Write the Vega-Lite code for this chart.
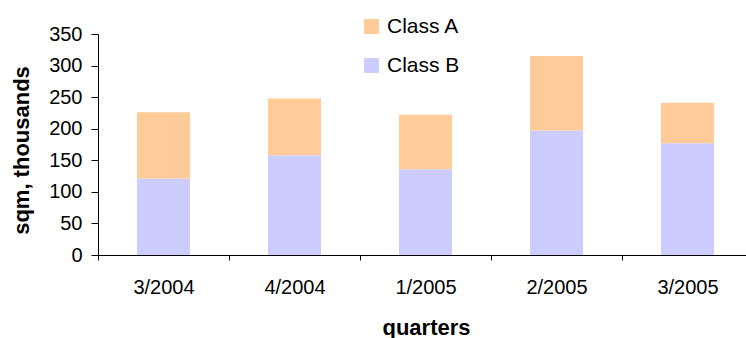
{
  "$schema": "https://vega.github.io/schema/vega-lite/v6.json",
  "autosize": {"type": "none"},
  "width": 648,
  "height": 221,
  "padding": {"left": 98, "top": 34, "right": 0, "bottom": 83},
  "background": "white",
  "config": {
    "view": {"stroke": null},
    "font": "Liberation Sans"
  },
  "data": {
    "values": [
      {"quarter": "3/2004", "class": "Class B", "stackOrder": 1, "sqm": 121},
      {"quarter": "3/2004", "class": "Class A", "stackOrder": 2, "sqm": 105},
      {"quarter": "4/2004", "class": "Class B", "stackOrder": 1, "sqm": 158},
      {"quarter": "4/2004", "class": "Class A", "stackOrder": 2, "sqm": 90},
      {"quarter": "1/2005", "class": "Class B", "stackOrder": 1, "sqm": 136},
      {"quarter": "1/2005", "class": "Class A", "stackOrder": 2, "sqm": 86},
      {"quarter": "2/2005", "class": "Class B", "stackOrder": 1, "sqm": 197},
      {"quarter": "2/2005", "class": "Class A", "stackOrder": 2, "sqm": 118},
      {"quarter": "3/2005", "class": "Class B", "stackOrder": 1, "sqm": 177},
      {"quarter": "3/2005", "class": "Class A", "stackOrder": 2, "sqm": 64}
    ]
  },
  "mark": {"type": "bar", "width": {"band": 0.405}},
  "encoding": {
    "x": {
      "field": "quarter",
      "type": "nominal",
      "sort": ["3/2004", "4/2004", "1/2005", "2/2005", "3/2005"],
      "scale": {"paddingInner": 0, "paddingOuter": 0, "range": [0, 655]},
      "axis": {
        "title": "quarters",
        "titleFont": "Liberation Sans",
        "titleFontSize": 22,
        "titleFontWeight": "bold",
        "titleColor": "black",
        "titleX": 328,
        "titleY": 79,
        "titleAlign": "center",
        "titleBaseline": "alphabetic",
        "labelAngle": 0,
        "labelFont": "Liberation Sans",
        "labelFontSize": 20,
        "labelColor": "black",
        "labelPadding": 17,
        "tickBand": "extent",
        "tickSize": 5,
        "tickColor": "black",
        "domainColor": "black",
        "grid": false
      }
    },
    "y": {
      "field": "sqm",
      "type": "quantitative",
      "stack": "zero",
      "scale": {"domain": [0, 350], "nice": false},
      "axis": {
        "title": "sqm, thousands",
        "titleFont": "Liberation Sans",
        "titleFontSize": 22,
        "titleFontWeight": "bold",
        "titleColor": "black",
        "titleAngle": -90,
        "titleX": -70,
        "titleY": 116,
        "titleAlign": "center",
        "titleBaseline": "alphabetic",
        "values": [0, 50, 100, 150, 200, 250, 300, 350],
        "labelFont": "Liberation Sans",
        "labelFontSize": 20,
        "labelColor": "black",
        "labelPadding": 9,
        "tickSize": 7,
        "tickColor": "black",
        "domainColor": "black",
        "grid": false
      }
    },
    "color": {
      "field": "class",
      "type": "nominal",
      "scale": {"domain": ["Class A", "Class B"], "range": ["#FFCC99", "#CCCCFF"]},
      "legend": {
        "title": null,
        "orient": "none",
        "legendX": 263,
        "legendY": -18,
        "padding": 0,
        "symbolType": "square",
        "symbolSize": 225,
        "symbolStrokeWidth": 0,
        "symbolOpacity": 1,
        "labelFont": "Liberation Sans",
        "labelFontSize": 21,
        "labelColor": "black",
        "labelOffset": 5,
        "rowPadding": 17
      }
    },
    "order": {"field": "stackOrder", "type": "quantitative"}
  }
}
